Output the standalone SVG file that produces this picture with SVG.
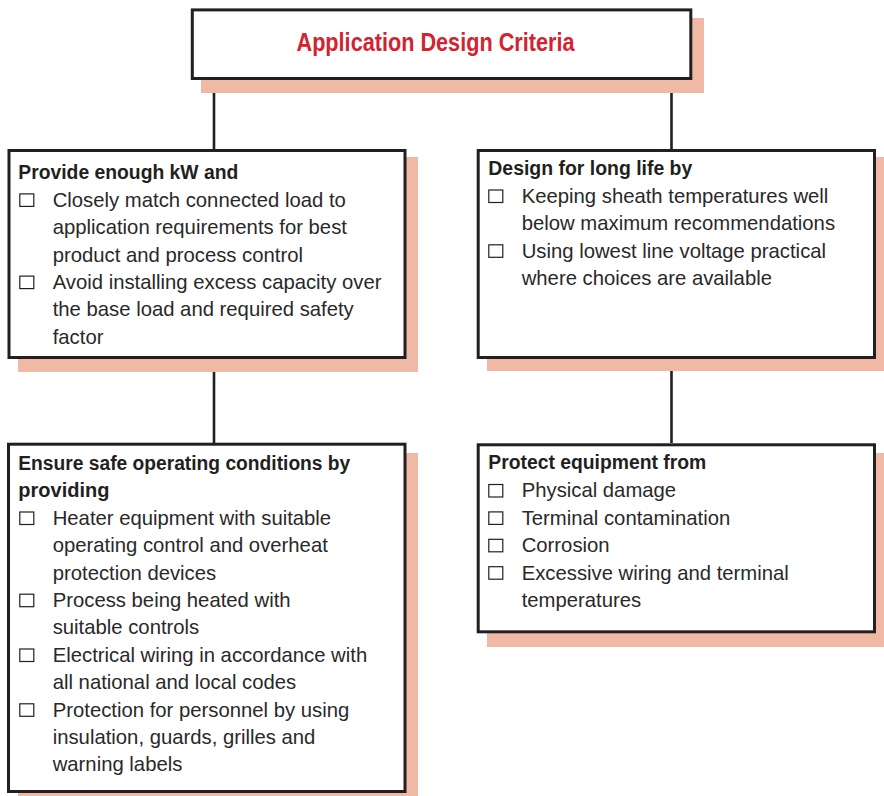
<svg xmlns="http://www.w3.org/2000/svg" width="884" height="796" viewBox="0 0 884 796">
<style>
.shadow{fill:#efb9a6}
.box{fill:#ffffff;stroke:#231f20;stroke-width:3}
.conn{stroke:#231f20;stroke-width:2.6;fill:none}
.title{font-family:"Liberation Sans",Arial,sans-serif;font-weight:bold;font-size:25px;fill:#d42330}
.head{font-family:"Liberation Sans",Arial,sans-serif;font-weight:bold;font-size:20px;fill:#231f20}
.body{font-family:"Liberation Sans",Arial,sans-serif;font-size:20.3px;fill:#2a2829}
.cb{fill:none;stroke:#231f20;stroke-width:1.2}
</style>
<rect width="884" height="796" fill="#ffffff"/>
<g id="connectors">
<line class="conn" x1="214" y1="80" x2="214" y2="149"/>
<line class="conn" x1="671.5" y1="80" x2="671.5" y2="149"/>
<line class="conn" x1="214" y1="359" x2="214" y2="443"/>
<line class="conn" x1="671.5" y1="359" x2="671.5" y2="443"/>
</g>
<g id="criteria">
<rect class="shadow" x="201" y="18" width="503" height="75"/>
<rect class="box" x="192.3" y="9.9" width="498.5" height="68.6"/>
<text class="title" x="296.5" y="51.4" textLength="278" lengthAdjust="spacingAndGlyphs">Application Design Criteria</text>
</g>
<g id="kw">
<rect class="shadow" x="18" y="157" width="400" height="215"/>
<rect class="box" x="9" y="150.5" width="396" height="207"/>
<text class="head" x="18.3" y="179.3" textLength="220" lengthAdjust="spacingAndGlyphs">Provide enough kW and</text>
<rect class="cb" x="19.8" y="193.9" width="14" height="12.5"/>
<text class="body" x="52.7" y="206.7">Closely match connected load to</text>
<text class="body" x="52.7" y="234.1">application requirements for best</text>
<text class="body" x="52.7" y="261.5">product and process control</text>
<rect class="cb" x="19.8" y="276.1" width="14" height="12.5"/>
<text class="body" x="52.7" y="288.9">Avoid installing excess capacity over</text>
<text class="body" x="52.7" y="316.3">the base load and required safety</text>
<text class="body" x="52.7" y="343.7">factor</text>
</g>
<g id="life">
<rect class="shadow" x="487" y="157" width="397" height="214"/>
<rect class="box" x="478.2" y="150.5" width="396.3" height="207"/>
<text class="head" x="488.3" y="175.4" textLength="204" lengthAdjust="spacingAndGlyphs">Design for long life by</text>
<rect class="cb" x="488.8" y="190" width="14" height="12.5"/>
<text class="body" x="521.7" y="202.8">Keeping sheath temperatures well</text>
<text class="body" x="521.7" y="230.2">below maximum recommendations</text>
<rect class="cb" x="488.8" y="244.8" width="14" height="12.5"/>
<text class="body" x="521.7" y="257.6">Using lowest line voltage practical</text>
<text class="body" x="521.7" y="285">where choices are available</text>
</g>
<g id="safe">
<rect class="shadow" x="18" y="453" width="400" height="343"/>
<rect class="box" x="8.5" y="444.2" width="396.5" height="347.3"/>
<text class="head" x="18.3" y="470" textLength="332" lengthAdjust="spacingAndGlyphs">Ensure safe operating conditions by</text>
<text class="head" x="18.3" y="497.4">providing</text>
<rect class="cb" x="19.8" y="512" width="14" height="12.5"/>
<text class="body" x="52.7" y="524.8">Heater equipment with suitable</text>
<text class="body" x="52.7" y="552.2">operating control and overheat</text>
<text class="body" x="52.7" y="579.6">protection devices</text>
<rect class="cb" x="19.8" y="594.2" width="14" height="12.5"/>
<text class="body" x="52.7" y="607">Process being heated with</text>
<text class="body" x="52.7" y="634.4">suitable controls</text>
<rect class="cb" x="19.8" y="649" width="14" height="12.5"/>
<text class="body" x="52.7" y="661.8">Electrical wiring in accordance with</text>
<text class="body" x="52.7" y="689.2">all national and local codes</text>
<rect class="cb" x="19.8" y="703.8" width="14" height="12.5"/>
<text class="body" x="52.7" y="716.6">Protection for personnel by using</text>
<text class="body" x="52.7" y="744">insulation, guards, grilles and</text>
<text class="body" x="52.7" y="771.4">warning labels</text>
</g>
<g id="protect">
<rect class="shadow" x="487" y="453" width="397" height="194"/>
<rect class="box" x="478.2" y="444.8" width="396.3" height="187"/>
<text class="head" x="488.3" y="469.3" textLength="218" lengthAdjust="spacingAndGlyphs">Protect equipment from</text>
<rect class="cb" x="488.8" y="484.5" width="14" height="12.5"/>
<text class="body" x="521.7" y="497.3">Physical damage</text>
<rect class="cb" x="488.8" y="511.9" width="14" height="12.5"/>
<text class="body" x="521.7" y="524.7">Terminal contamination</text>
<rect class="cb" x="488.8" y="539.3" width="14" height="12.5"/>
<text class="body" x="521.7" y="552.1">Corrosion</text>
<rect class="cb" x="488.8" y="566.7" width="14" height="12.5"/>
<text class="body" x="521.7" y="579.5">Excessive wiring and terminal</text>
<text class="body" x="521.7" y="606.9">temperatures</text>
</g>
</svg>
